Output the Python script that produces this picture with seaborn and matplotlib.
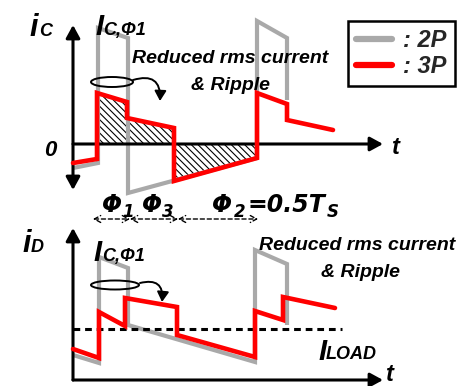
import numpy as np
import pandas as pd
import matplotlib
matplotlib.use("Agg")
import matplotlib.pyplot as plt
import seaborn as sns
from matplotlib.lines import Line2D
from matplotlib.patches import Ellipse

# ---------------- data (time in arbitrary units, current in arbitrary units) -------------
# Top panel: capacitor current i_C
t_c_2p = [0.0, 2.5, 2.5, 5.5, 5.5, 18.4, 18.4, 21.4, 21.4]
i_c_2p = [-2.4, -1.9, 11.6, 10.6, -4.9, -1.4, 12.3, 10.6, 4.4]
t_c_3p = [0.0, 2.4, 2.4, 5.4, 5.4, 10.1, 10.1, 18.4, 18.4, 21.4, 21.4, 26.0]
i_c_3p = [-1.9, -1.5, 5.1, 4.2, 2.6, 1.6, -3.7, -1.4, 5.1, 4.0, 2.4, 1.4]

# Bottom panel: diode current i_D
t_d_2p = [0.0, 2.6, 2.6, 5.5, 5.5, 18.2, 18.2, 21.4, 21.4]
i_d_2p = [2.5, 1.7, 12.3, 11.2, 5.5, 1.8, 13.0, 11.6, 5.5]
t_d_3p = [0.0, 2.6, 2.6, 5.2, 5.2, 10.4, 10.4, 18.2, 18.2, 21.0, 21.0, 26.2]
i_d_3p = [3.1, 2.2, 6.8, 5.4, 8.2, 7.3, 4.5, 2.3, 6.9, 6.0, 8.3, 7.2]

i_load = 5.1
t_load_end = 26.9
phase_marks = [2.0, 5.7, 10.5, 18.5]   # Phi1 | Phi3 | Phi2 boundaries

series_labels = [": 2P", ": 3P"]
GRAY = "#A9A9A9"
RED = "#FF0000"

# ---------------- style -------------
sns.set_theme(style="white")
plt.rcParams["font.family"] = ["Liberation Sans", "DejaVu Sans"]
plt.rcParams["hatch.linewidth"] = 0.8
plt.rcParams["hatch.color"] = "black"

W, H = 465, 386
fig = plt.figure(figsize=(W / 100, H / 100), dpi=100)
fig.patch.set_facecolor("white")

# axes: 10 px per unit in both directions
ax_top = fig.add_axes([0, 181 / H, 1, 205 / H])
ax_bot = fig.add_axes([0, 0, 1, 181 / H])
ax_top.set_xlim(-7.3, 39.2)
ax_top.set_ylim(-6.1, 14.4)
ax_bot.set_xlim(-7.3, 39.2)
ax_bot.set_ylim(-0.6, 17.5)
for ax in (ax_top, ax_bot):
    ax.axis("off")


def waves(ax, t2, i2, t3, i3):
    d2 = pd.DataFrame({"t": t2, "i": i2})
    d3 = pd.DataFrame({"t": t3, "i": i3})
    sns.lineplot(data=d2, x="t", y="i", sort=False, estimator=None, color=GRAY,
                 linewidth=3.0, ax=ax, zorder=3, solid_joinstyle="miter",
                 solid_capstyle="butt")
    sns.lineplot(data=d3, x="t", y="i", sort=False, estimator=None, color=RED,
                 linewidth=3.3, ax=ax, zorder=5, solid_joinstyle="miter",
                 solid_capstyle="round")


def txt(ax, x, y, s, size, family=None, **kw):
    kw.setdefault("ha", "left")
    if family is not None:
        kw["family"] = family
    ax.text(x, y, s, fontsize=size, fontweight="bold", fontstyle="italic",
            va="baseline", color="black", **kw)


arrow_kw = dict(arrowstyle="-|>,head_length=0.55,head_width=0.3", color="black",
                lw=2.2, shrinkA=0, shrinkB=0, mutation_scale=14)

# ---------------- top panel -------------
t3 = np.array(t_c_3p)
i3 = np.array(i_c_3p)
sel = slice(2, 8)  # from rising edge of Phi1 to start of next period
ax_top.fill_between(t3[sel], 0, i3[sel], facecolor="none", edgecolor="black",
                    hatch="\\\\\\\\\\", linewidth=0, zorder=2)
waves(ax_top, t_c_2p, i_c_2p, t_c_3p, i_c_3p)

# axes arrows
ax_top.annotate("", xy=(0, 11.9), xytext=(0, -4.6),
                arrowprops=dict(arrow_kw, arrowstyle="<|-|>,head_length=0.55,head_width=0.3"),
                zorder=4)
ax_top.annotate("", xy=(31.0, 0), xytext=(0, 0), arrowprops=arrow_kw, zorder=4)

txt(ax_top, -4.4, 10.8, "i", 22)
txt(ax_top, -3.4, 10.8, "C", 13)
txt(ax_top, -2.3, -1.2, "0", 16, ha="center")
txt(ax_top, 31.9, -1.0, "t", 17)
txt(ax_top, 2.2, 10.9, "I", 21)
txt(ax_top, 3.0, 10.9, "C,Φ1", 13)
txt(ax_top, 15.7, 8.1, "Reduced rms current", 14, ha="center")
txt(ax_top, 15.7, 5.4, "& Ripple", 14, ha="center")

ax_top.add_patch(Ellipse((3.9, 6.2), 4.2, 1.0, fill=False, edgecolor="black",
                         lw=1.4, zorder=6))
ax_top.annotate("", xy=(8.7, 4.3), xytext=(6.0, 6.4),
                arrowprops=dict(arrowstyle="-|>,head_length=0.6,head_width=0.35",
                                color="black", lw=1.4, shrinkA=0, shrinkB=0,
                                connectionstyle="arc3,rad=-0.7", mutation_scale=10),
                zorder=6)

ax_top.legend(handles=[Line2D([], [], color=GRAY, lw=4.5, solid_capstyle="round"),
                       Line2D([], [], color=RED, lw=4.5, solid_capstyle="round")],
              labels=series_labels, loc="upper right",
              bbox_to_anchor=(455 / W, 1 - 21 / 205), frameon=True, fancybox=False,
              edgecolor="black", framealpha=1, borderpad=0.35, handlelength=1.5,
              handletextpad=0.5, labelspacing=0.12, borderaxespad=0,
              prop=dict(family="Liberation Sans", weight="bold", style="italic",
                        size=17))
ax_top.get_legend().get_frame().set_linewidth(1.8)

# ---------------- bottom panel -------------
sns.lineplot(x=[0.0, t_load_end], y=[i_load, i_load], color="black", linewidth=2.2,
             linestyle=(0, (2.2, 1.6)), ax=ax_bot, zorder=4)
waves(ax_bot, t_d_2p, i_d_2p, t_d_3p, i_d_3p)

ax_bot.annotate("", xy=(0, 15.2), xytext=(0, 0), arrowprops=arrow_kw, zorder=4)
ax_bot.annotate("", xy=(31.0, 0), xytext=(0, 0), arrowprops=arrow_kw, zorder=4)

txt(ax_bot, -5.1, 12.8, "i", 22)
txt(ax_bot, -4.2, 12.8, "D", 13)
txt(ax_bot, 31.3, -0.1, "t", 17)
txt(ax_bot, 2.0, 11.9, "I", 21)
txt(ax_bot, 2.9, 11.9, "C,Φ1", 13)
txt(ax_bot, 24.5, 2.0, "I", 21)
txt(ax_bot, 25.3, 2.1, "LOAD", 13)
txt(ax_bot, 28.4, 13.0, "Reduced rms current", 14, ha="center")
txt(ax_bot, 28.7, 10.3, "& Ripple", 14, ha="center")

ax_bot.add_patch(Ellipse((4.2, 9.5), 4.8, 0.9, fill=False, edgecolor="black",
                         lw=1.4, zorder=6))
ax_bot.annotate("", xy=(8.9, 7.8), xytext=(6.7, 9.7),
                arrowprops=dict(arrowstyle="-|>,head_length=0.6,head_width=0.35",
                                color="black", lw=1.4, shrinkA=0, shrinkB=0,
                                connectionstyle="arc3,rad=-0.7", mutation_scale=10),
                zorder=6)

# phase annotation
for a, b in zip(phase_marks[:-1], phase_marks[1:]):
    ax_bot.annotate("", xy=(b, 16.1), xytext=(a, 16.1),
                    arrowprops=dict(arrowstyle="<->,head_length=0.45,head_width=0.25",
                                    color="black", lw=1.0, linestyle=(0, (3, 2)),
                                    shrinkA=0, shrinkB=0, mutation_scale=10))
DV = "DejaVu Sans"
txt(ax_bot, 2.9, 16.8, "Φ", 17, DV)
txt(ax_bot, 4.9, 16.3, "1", 12, DV)
txt(ax_bot, 6.9, 16.8, "Φ", 17, DV)
txt(ax_bot, 8.9, 16.3, "3", 12, DV)
txt(ax_bot, 13.9, 16.8, "Φ", 17, DV)
txt(ax_bot, 16.1, 16.3, "2", 12, DV)
txt(ax_bot, 17.4, 16.8, "=0.5T", 17, DV)
txt(ax_bot, 25.4, 16.3, "S", 12, DV)

fig.savefig("out.png", dpi=100, facecolor="white")
